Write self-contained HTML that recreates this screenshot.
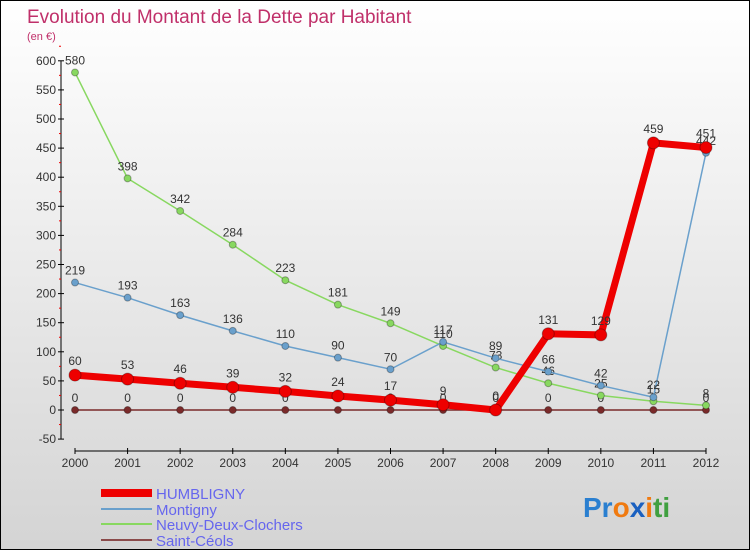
<!DOCTYPE html>
<html><head><meta charset="utf-8"><style>
body{margin:0}
#c{position:relative;width:748px;height:548px;border:1px solid #000;background:linear-gradient(#ffffff,#d4d4d4);font-family:"Liberation Sans",sans-serif;overflow:hidden}
</style></head><body>
<div id="c">
<svg id="s" width="748" height="548" xmlns="http://www.w3.org/2000/svg" font-family="Liberation Sans, sans-serif">
<text x="26" y="22" font-size="19" fill="#c0306a">Evolution du Montant de la Dette par Habitant</text>
<text x="26" y="39" font-size="11" fill="#c0306a">(en €)</text>
<g id="axes"></g><g id="series"></g>
<g>
<line x1="100" y1="492" x2="151" y2="492" stroke="#ee0000" stroke-width="8"/>
<text x="155" y="498" font-size="15" fill="#6666ee">HUMBLIGNY</text>
<line x1="100" y1="508" x2="151" y2="508" stroke="#6aa0cc" stroke-width="2"/>
<text x="155" y="514" font-size="15" fill="#6666ee">Montigny</text>
<line x1="100" y1="523" x2="151" y2="523" stroke="#88d860" stroke-width="2"/>
<text x="155" y="529" font-size="15" fill="#6666ee">Neuvy-Deux-Clochers</text>
<line x1="100" y1="539" x2="151" y2="539" stroke="#8a4a4a" stroke-width="2"/>
<text x="155" y="545" font-size="15" fill="#6666ee">Saint-Céols</text>
</g>
<text x="582" y="516" font-size="28" font-weight="bold"><tspan fill="#2a7fd0">Pr</tspan><tspan fill="#f07a10">o</tspan><tspan fill="#1a60c0">x</tspan><tspan fill="#f07a10">i</tspan><tspan fill="#40a040">ti</tspan></text>
</svg></div>
<script>
const years=[2000,2001,2002,2003,2004,2005,2006,2007,2008,2009,2010,2011,2012];
const humbligny=[60,53,46,39,32,24,17,9,0,131,129,459,451];
const montigny=[219,193,163,136,110,90,70,117,89,66,42,22,442];
const neuvy=[580,398,342,284,223,181,149,110,73,46,25,15,8];
const saintCeols=[0,0,0,0,0,0,0,0,0,0,0,0,0];
const yTicks=[-50,0,50,100,150,200,250,300,350,400,450,500,550,600];
const NS="http://www.w3.org/2000/svg";
const X=i=>74+i*(631/12);
const Y=v=>409-v*0.582;
function mk(tag,attrs,parent){const e=document.createElementNS(NS,tag);for(const k in attrs)e.setAttribute(k,attrs[k]);parent.appendChild(e);return e;}
const ax=document.getElementById('axes');
const yl=mk('line',{x1:60,y1:Y(600),x2:60,y2:Y(-50),stroke:'#000'},ax);


yTicks.forEach(t=>{
 mk('line',{x1:57,y1:Y(t),x2:63,y2:Y(t),stroke:'#000'},ax);
 mk('line',{x1:58,y1:Y(t+25),x2:60,y2:Y(t+25),stroke:'#e00'},ax);
 const tx=mk('text',{x:55,y:Y(t)+4,'font-size':12,fill:'#333','text-anchor':'end'},ax);
 tx.textContent=t;
 
 
});
const xl=mk('line',{x1:X(0),y1:450,x2:X(12),y2:450,stroke:'#000'},ax);


years.forEach((yr,i)=>{
 mk('line',{x1:X(i),y1:447,x2:X(i),y2:453,stroke:'#000'},ax);
 const tx=mk('text',{x:X(i),y:466,'font-size':12,fill:'#333','text-anchor':'middle'},ax);
 tx.textContent=yr;
 
 
});
const sg=document.getElementById('series');
function draw(data,color,w,r,name,labelDy){
 const g=mk('g',{},sg);
 
 
 mk('polyline',{points:data.map((v,i)=>X(i)+','+Y(v)).join(' '),fill:'none',stroke:color,'stroke-width':w},g);
 data.forEach((v,i)=>{
  const c=mk('circle',{cx:X(i),cy:Y(v),r:r,fill:color,stroke:'rgba(0,0,0,0.3)'},g);
  
  
  const t=mk('text',{x:X(i),y:Y(v)+labelDy,'font-size':12,fill:'#333','text-anchor':'middle'},g);
  t.textContent=v;
  
  
 });
}
draw(saintCeols,'#7a2a2a',1.5,3.5,'series-saint-ceols',-8);
draw(neuvy,'#88d860',1.5,3.5,'series-neuvy',-8);
draw(montigny,'#6aa0cc',1.5,3.5,'series-montigny',-8);
draw(humbligny,'#ee0000',7,6,'series-humbligny',-10);
</script>
</body></html>
